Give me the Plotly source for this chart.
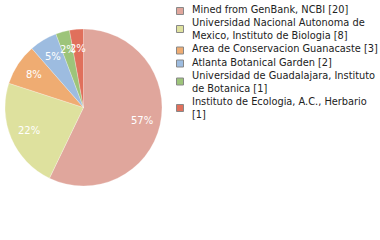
import math
import plotly.graph_objects as go

labels = [
    "Mined from GenBank, NCBI [20]",
    "Universidad Nacional Autonoma de<br>Mexico, Instituto de Biologia [8]",
    "Area de Conservacion Guanacaste [3]",
    "Atlanta Botanical Garden [2]",
    "Universidad de Guadalajara, Instituto<br>de Botanica [1]",
    "Instituto de Ecologia, A.C., Herbario<br>[1]",
]
values = [20, 8, 3, 2, 1, 1]
colors = ["#E0A69C", "#DEE19E", "#EFAC72", "#9DBCE0", "#9DC47A", "#E0705C"]

total = sum(values)
pct_text = [f"{int(v * 100 // total)}%" for v in values]

W, H = 380, 240
# pie box in pixels (left, top, size)
PL, PT, PS = 5, 29, 157
dom_x = [PL / W, (PL + PS) / W]
dom_y = [1 - (PT + PS) / H, 1 - PT / H]

fig = go.Figure(go.Pie(
    labels=labels,
    values=values,
    textinfo="none",
    sort=False,
    direction="clockwise",
    rotation=0,
    showlegend=False,
    marker=dict(colors=colors, line=dict(color="rgba(255,255,255,0.5)", width=0.5)),
    domain=dict(x=dom_x, y=dom_y),
    hoverinfo="label+value",
))

# percentage labels placed on hidden axes aligned with the pie
cum = 0
for v, t in zip(values, pct_text):
    mid = (cum + v / 2) / total * 2 * math.pi
    cum += v
    fig.add_annotation(
        x=0.76 * math.sin(mid), y=0.76 * math.cos(mid), xref="x", yref="y",
        text=t, showarrow=False,
        font=dict(color="white", size=10, family="DejaVu Sans"),
    )

# legend built from labels/colors
y_line = 10.0
for lab, col in zip(labels, colors):
    n = lab.count("<br>") + 1
    fig.add_annotation(
        x=190 / W, y=1 - (y_line - 8) / H, xref="paper", yref="paper",
        xanchor="left", yanchor="top", align="left", showarrow=False,
        text=lab, font=dict(size=9.8, family="DejaVu Sans", color="#222222"),
    )
    cy = y_line + 1 + (n - 1) * 5
    fig.add_shape(
        type="rect", xref="paper", yref="paper",
        x0=176.5 / W, x1=183.5 / W, y0=1 - (cy - 3.5) / H, y1=1 - (cy + 3.5) / H,
        fillcolor=col, line=dict(color="#888888", width=1),
    )
    y_line += 13 if n == 1 else 26.5

fig.update_layout(
    width=W, height=H,
    margin=dict(l=0, r=0, t=0, b=0),
    paper_bgcolor="white",
    plot_bgcolor="rgba(0,0,0,0)",
    showlegend=False,
    xaxis=dict(domain=dom_x, range=[-1, 1], visible=False, fixedrange=True),
    yaxis=dict(domain=dom_y, range=[-1, 1], visible=False, fixedrange=True),
)
fig.write_html("out.html")
